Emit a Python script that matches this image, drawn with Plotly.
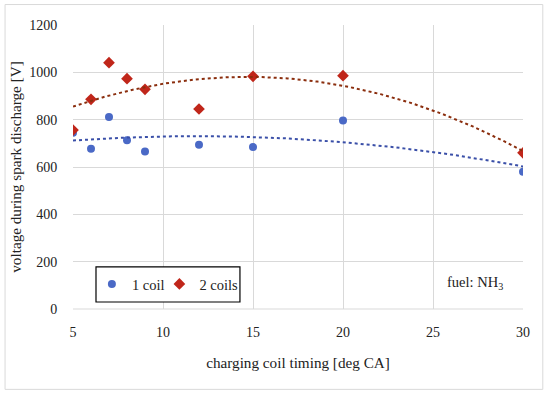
import numpy as np
import plotly.graph_objects as go

timing = [5, 6, 7, 8, 9, 12, 15, 20, 30]
coil1 = [745, 677, 811, 713, 665, 694, 684, 797, 580]
coil2 = [756, 886, 1041, 973, 928, 845, 983, 986, 660]

x_ticks = [5, 10, 15, 20, 25, 30]
y_ticks = [0, 200, 400, 600, 800, 1000, 1200]

FONT = "Liberation Serif"
BLUE = "#4A69C6"
RED = "#C0261A"

xs = np.linspace(5, 30, 200)
p1 = np.polyfit(timing, coil1, 2)
p2 = np.polyfit(timing, coil2, 2)

fig = go.Figure()
fig.add_trace(go.Scatter(x=timing, y=coil1, mode="markers", name="1 coil", legend="legend",
                         marker=dict(symbol="circle", size=8, color=BLUE)))
fig.add_trace(go.Scatter(x=timing, y=coil2, mode="markers", name="2 coils", legend="legend2",
                         marker=dict(symbol="diamond", size=9, color=RED)))
fig.add_trace(go.Scatter(x=xs, y=np.polyval(p1, xs), mode="lines", showlegend=False,
                         line=dict(color="#3A4FA8", width=2, dash="dot")))
fig.add_trace(go.Scatter(x=xs, y=np.polyval(p2, xs), mode="lines", showlegend=False,
                         line=dict(color="#8B2E0E", width=2, dash="dot")))

leg_common = dict(yanchor="middle", xanchor="left", orientation="h",
                  borderwidth=0, bgcolor="rgba(0,0,0,0)", itemwidth=30,
                  font=dict(size=14.5))

fig.update_layout(
    width=550, height=396,
    margin=dict(l=73, r=27, t=25, b=87, autoexpand=False),
    paper_bgcolor="white", plot_bgcolor="white",
    font=dict(family=FONT, size=14, color="#222"),
    xaxis=dict(range=[5, 30], tickvals=x_ticks, showgrid=True, gridcolor="#D9D9D9",
               zeroline=False, showline=False, automargin=False,
               ticks="outside", ticklen=10, tickcolor="rgba(0,0,0,0)",
               title=dict(text="charging coil timing [deg CA]", standoff=18,
                          font=dict(size=15.2)),
               tickfont=dict(size=14)),
    yaxis=dict(range=[0, 1200], tickvals=y_ticks, showgrid=True, gridcolor="#D9D9D9",
               zeroline=False, showline=False, automargin=False,
               ticks="outside", ticklen=12, tickcolor="rgba(0,0,0,0)",
               title=dict(text="voltage during spark discharge [V]", standoff=3,
                          font=dict(size=15.2)),
               tickfont=dict(size=14)),
    legend=dict(x=0.042, y=0.088, **leg_common),
    legend2=dict(x=0.192, y=0.088, **leg_common),
    showlegend=True,
)

fig.add_annotation(x=0.96, y=0.0915, xref="paper", yref="paper", xanchor="right",
                   yanchor="middle", showarrow=False,
                   text="fuel: NH<sub>3</sub>", font=dict(size=14.5))

# legend frame
fig.add_shape(type="rect", xref="paper", yref="paper", x0=0.0511, x1=0.371,
              y0=0.0246, y1=0.148, line=dict(color="black", width=1.2),
              fillcolor="white", layer="above")
# outer chart border
fig.add_shape(type="rect", xref="paper", yref="paper", x0=-0.151, x1=1.044,
              y0=-0.283, y1=1.072, line=dict(color="#D9D9D9", width=1), layer="below")
fig.add_shape(type="line", xref="paper", yref="paper", x0=0, x1=1, y0=0, y1=0,
              line=dict(color="#D9D9D9", width=1))

fig.write_html("out.html", config={"displayModeBar": False},
               post_script="document.body.style.margin='0px';")
